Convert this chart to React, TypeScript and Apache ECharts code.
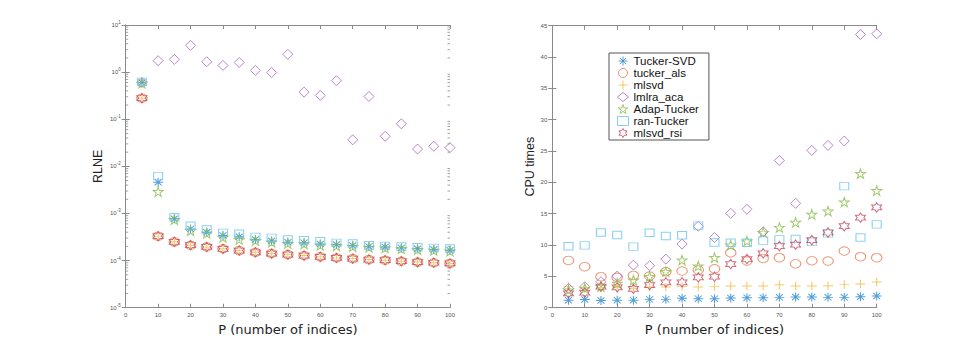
import React, { useEffect, useRef } from "react";
import * as echarts from "echarts";

// ---------- data ----------
const P = [5, 10, 15, 20, 25, 30, 35, 40, 45, 50, 55, 60, 65, 70, 75, 80, 85, 90, 95, 100];

const seriesNames = ["Tucker-SVD", "tucker_als", "mlsvd", "lmlra_aca", "Adap-Tucker", "ran-Tucker", "mlsvd_rsi"];

// RLNE (left, log scale)
const rlneTuckerSVD = [0.6, 0.0046, 7.7e-4, 4.7e-4, 4.0e-4, 3.4e-4, 3.2e-4, 2.8e-4, 2.6e-4, 2.45e-4, 2.4e-4, 2.25e-4, 2.2e-4, 2.08e-4, 2.0e-4, 1.95e-4, 1.86e-4, 1.78e-4, 1.72e-4, 1.65e-4];
const rlneTuckerAls = [0.28, 3.3e-4, 2.5e-4, 2.12e-4, 1.95e-4, 1.78e-4, 1.63e-4, 1.5e-4, 1.41e-4, 1.34e-4, 1.28e-4, 1.2e-4, 1.14e-4, 1.1e-4, 1.05e-4, 1.02e-4, 0.97e-4, 0.93e-4, 0.9e-4, 0.87e-4];
const rlneMlsvd = [0.28, 3.3e-4, 2.5e-4, 2.12e-4, 1.95e-4, 1.78e-4, 1.63e-4, 1.5e-4, 1.41e-4, 1.34e-4, 1.28e-4, 1.2e-4, 1.14e-4, 1.1e-4, 1.05e-4, 1.02e-4, 0.97e-4, 0.93e-4, 0.9e-4, 0.87e-4];
const rlneLmlraAca = [0.6, 1.75, 1.86, 3.7, 1.66, 1.39, 1.6, 1.09, 0.98, 2.38, 0.376, 0.32, 0.656, 0.0365, 0.304, 0.0435, 0.08, 0.0233, 0.0267, 0.025];
const rlneAdapTucker = [0.58, 0.0029, 7.4e-4, 4.3e-4, 3.8e-4, 3.1e-4, 2.8e-4, 2.65e-4, 2.45e-4, 2.3e-4, 2.25e-4, 2.1e-4, 2.05e-4, 1.98e-4, 1.9e-4, 1.85e-4, 1.78e-4, 1.7e-4, 1.65e-4, 1.58e-4];
const rlneRanTucker = [0.62, 0.0062, 8.3e-4, 5.5e-4, 4.57e-4, 3.88e-4, 3.7e-4, 3.19e-4, 3.04e-4, 2.8e-4, 2.7e-4, 2.57e-4, 2.38e-4, 2.3e-4, 2.12e-4, 2.05e-4, 1.99e-4, 1.92e-4, 1.86e-4, 1.8e-4];
const rlneMlsvdRsi = [0.28, 3.3e-4, 2.5e-4, 2.12e-4, 1.95e-4, 1.78e-4, 1.63e-4, 1.5e-4, 1.41e-4, 1.34e-4, 1.28e-4, 1.2e-4, 1.14e-4, 1.1e-4, 1.05e-4, 1.02e-4, 0.97e-4, 0.93e-4, 0.9e-4, 0.87e-4];

// CPU times (right, linear)
const cpuTuckerSVD = [1.2, 1.3, 1.15, 1.2, 1.2, 1.33, 1.33, 1.5, 1.44, 1.44, 1.55, 1.6, 1.6, 1.65, 1.7, 1.7, 1.65, 1.65, 1.75, 1.86];
const cpuTuckerAls = [7.55, 6.55, 4.95, 4.85, 5.15, 5.05, 5.75, 5.85, 6.0, 6.2, 8.78, 7.45, 7.87, 7.98, 7.02, 7.5, 7.45, 9.04, 8.14, 7.98];
const cpuMlsvd = [3.4, 3.1, 3.2, 3.2, 3.1, 3.3, 3.3, 3.4, 3.3, 3.4, 3.46, 3.46, 3.46, 3.67, 3.46, 3.46, 3.5, 3.72, 3.78, 4.1];
const cpuLmlraAca = [3.1, 3.35, 4.15, 5.05, 6.8, 6.7, 7.75, 10.15, 13.0, 11.2, 15.05, 15.7, 12.1, 23.5, 16.65, 25.1, 25.9, 26.6, 43.6, 43.7];
const cpuAdapTucker = [2.8, 3.1, 3.35, 3.9, 4.4, 4.95, 5.75, 7.6, 6.65, 8.0, 10.0, 10.64, 12.0, 12.8, 13.6, 14.9, 15.4, 16.86, 21.4, 18.67];
const cpuRanTucker = [9.8, 9.95, 12.0, 11.6, 9.75, 11.95, 11.45, 11.55, 13.1, 10.4, 10.37, 10.37, 10.7, 10.9, 10.96, 10.5, 11.86, 19.4, 11.2, 13.3];
const cpuMlsvdRsi = [2.3, 2.4, 3.35, 3.25, 3.0, 3.6, 4.05, 4.05, 4.85, 4.95, 6.97, 7.77, 8.67, 9.84, 10.05, 10.8, 12.0, 13.0, 14.36, 16.0];

const rlneData = [rlneTuckerSVD, rlneTuckerAls, rlneMlsvd, rlneLmlraAca, rlneAdapTucker, rlneRanTucker, rlneMlsvdRsi];
const cpuData = [cpuTuckerSVD, cpuTuckerAls, cpuMlsvd, cpuLmlraAca, cpuAdapTucker, cpuRanTucker, cpuMlsvdRsi];

// minor tick mantissas for the log axis
const minorMantissas = [2, 3, 4, 5, 6, 7, 8, 9];
const decadeExponents = [-5, -4, -3, -2, -1, 0];

// ---------- styles ----------
const colors = ["#2a88d0", "#e5794c", "#f0bd45", "#a868c2", "#8cbd4c", "#6ac6ef", "#c4485e"];
const symbols = [
  "path://M0 -1L0 1M-1 0L1 0M-0.7 -0.7L0.7 0.7M-0.7 0.7L0.7 -0.7",
  "circle",
  "path://M0 -1L0 1M-1 0L1 0",
  "diamond",
  "path://M0 -1L0.2245 -0.309L0.951 -0.309L0.363 0.118L0.588 0.809L0 0.382L-0.588 0.809L-0.363 0.118L-0.951 -0.309L-0.2245 -0.309Z",
  "rect",
  "path://M0 -1L0.2885 -0.5L0.866 -0.5L0.577 0L0.866 0.5L0.2885 0.5L0 1L-0.2885 0.5L-0.866 0.5L-0.577 0L-0.866 -0.5L-0.2885 -0.5Z",
];
const symbolSizes: number[][] = [[10, 9], [10.5, 8.5], [10, 8.5], [10, 10], [10, 9.5], [9, 7.5], [10, 9.5]];

const axisColor = "#8a8a8a";
const labelColor = "#555";
const FONT = "Liberation Sans, Arial, sans-serif";

export default function App() {
  const ref = useRef<HTMLDivElement>(null);

  useEffect(() => {
    if (!ref.current) return;
    const chart = echarts.init(ref.current, undefined, { renderer: "svg" });

    const minorTicks: number[][] = [];
    decadeExponents.forEach((e) => minorMantissas.forEach((m) => minorTicks.push([0, m * Math.pow(10, e)])));

    const xBase = (gridIndex: number, top: boolean) => ({
      type: "value" as const,
      gridIndex,
      position: top ? "top" : "bottom",
      min: 0,
      max: 100,
      interval: 10,
      name: top ? "" : "P (number of indices)",
      nameLocation: "middle" as const,
      nameGap: 8,
      nameTextStyle: { fontFamily: "DejaVu Sans, sans-serif", fontSize: 13, color: "#222", verticalAlign: "top" },
      axisLine: { show: true, onZero: false, lineStyle: { color: axisColor, width: 1 } },
      axisTick: { show: true, inside: true, length: 4, lineStyle: { color: axisColor } },
      axisLabel: { show: !top, fontSize: 6, color: labelColor, fontFamily: FONT, margin: 4 },
      splitLine: { show: false },
    });

    const logFormatter = (v: number) => {
      const e = Math.round(Math.log10(v));
      return "{b|10}{s|" + e + "}";
    };

    const option: any = {
      animation: false,
      backgroundColor: "#fff",
      grid: [
        { left: 125.7, top: 25, width: 324.3, height: 282.7 },
        { left: 552.3, top: 25.7, width: 324.4, height: 282 },
      ],
      legend: {
        data: seriesNames,
        orient: "vertical",
        left: 609,
        top: 53,
        padding: [2, 10, 1, 8],
        itemWidth: 11,
        itemHeight: 9,
        itemGap: 0,
        backgroundColor: "#fff",
        borderColor: "#555",
        borderWidth: 1,
        borderRadius: 0,
        textStyle: { fontFamily: FONT, fontSize: 11.5, color: "#111", lineHeight: 11.8 },
        itemStyle: { borderWidth: 1 },
      },
      xAxis: [xBase(0, false), xBase(0, true), xBase(1, false), xBase(1, true)],
      yAxis: [
        {
          type: "log",
          gridIndex: 0,
          min: 1e-5,
          max: 10,
          interval: 1,
          logBase: 10,
          name: "RLNE",
          nameLocation: "middle",
          nameGap: 21,
          nameTextStyle: { fontFamily: FONT, fontSize: 12.5, color: "#222" },
          axisLine: { show: true, lineStyle: { color: axisColor } },
          axisTick: { show: true, inside: true, length: 4, lineStyle: { color: axisColor } },
          axisLabel: {
            formatter: logFormatter,
            margin: 5,
            color: labelColor,
            rich: {
              b: { fontSize: 6, fontFamily: FONT, color: labelColor },
              s: { fontSize: 4.5, fontFamily: FONT, color: labelColor, padding: [0, 0, 5, 0] },
            },
          },
          splitLine: { show: false },
        },
        {
          type: "log",
          gridIndex: 0,
          position: "right",
          min: 1e-5,
          max: 10,
          interval: 1,
          logBase: 10,
          axisLine: { show: true, lineStyle: { color: axisColor } },
          axisTick: { show: true, inside: true, length: 4, lineStyle: { color: axisColor } },
          axisLabel: { show: false },
          splitLine: { show: false },
        },
        {
          type: "value",
          gridIndex: 1,
          min: 0,
          max: 45,
          interval: 5,
          name: "CPU times",
          nameLocation: "middle",
          nameGap: 14,
          nameTextStyle: { fontFamily: FONT, fontSize: 12.5, color: "#222" },
          axisLine: { show: true, lineStyle: { color: axisColor } },
          axisTick: { show: true, inside: true, length: 4, lineStyle: { color: axisColor } },
          axisLabel: { fontSize: 6, color: labelColor, fontFamily: FONT, margin: 5 },
          splitLine: { show: false },
        },
        {
          type: "value",
          gridIndex: 1,
          position: "right",
          min: 0,
          max: 45,
          interval: 5,
          axisLine: { show: true, lineStyle: { color: axisColor } },
          axisTick: { show: true, inside: true, length: 4, lineStyle: { color: axisColor } },
          axisLabel: { show: false },
          splitLine: { show: false },
        },
      ],
      series: [] as any[],
    };

    // minor ticks for log axis (positions via the axis scale)
    option.series.push({
      type: "custom",
      name: "minorTicks",
      xAxisIndex: 0,
      yAxisIndex: 0,
      silent: true,
      clip: false,
      data: minorTicks,
      renderItem: (params: any, api: any) => {
        const y = api.coord([0, api.value(1)])[1];
        const cs = params.coordSys;
        return {
          type: "group",
          children: [
            { type: "line", shape: { x1: cs.x, y1: y, x2: cs.x + 2.5, y2: y }, style: { stroke: axisColor, lineWidth: 0.8 } },
            { type: "line", shape: { x1: cs.x + cs.width - 2.5, y1: y, x2: cs.x + cs.width, y2: y }, style: { stroke: axisColor, lineWidth: 0.8 } },
          ],
        };
      },
    });

    seriesNames.forEach((name, i) => {
      const common = {
        type: "scatter",
        name,
        symbol: symbols[i],
        symbolSize: symbolSizes[i],
        itemStyle: { color: "rgba(0,0,0,0)", borderColor: colors[i], borderWidth: 1 },
        emphasis: { disabled: true },
      };
      option.series.push({
        ...common,
        xAxisIndex: 0,
        yAxisIndex: 0,
        data: P.map((p, k) => [p, rlneData[i][k]]),
      });
      option.series.push({
        ...common,
        xAxisIndex: 2,
        yAxisIndex: 2,
        data: P.map((p, k) => [p, cpuData[i][k]]),
      });
    });

    chart.setOption(option);
    return () => chart.dispose();
  }, []);

  return (
    <div
      ref={ref}
      style={{ position: "absolute", left: 0, top: 0, width: 969, height: 346, background: "#fff" }}
    />
  );
}
